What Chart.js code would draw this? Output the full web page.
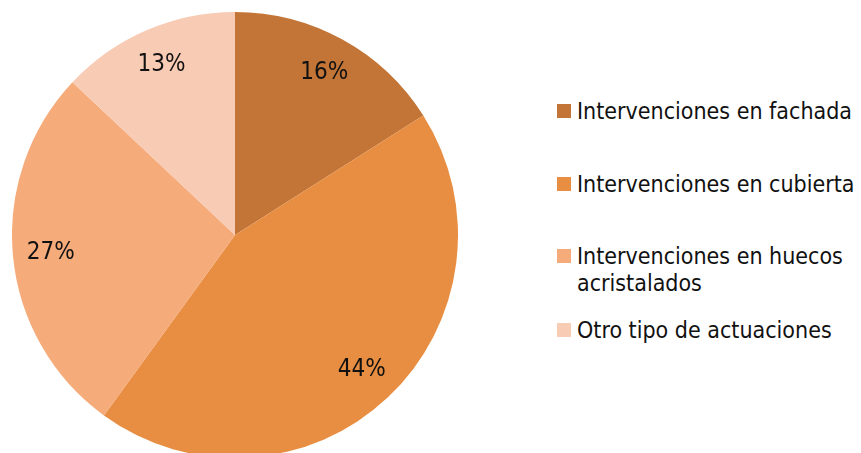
<!DOCTYPE html>
<html>
<head>
<meta charset="utf-8">
<script src="https://cdn.jsdelivr.net/npm/chart.js@4/dist/chart.umd.min.js"></script>
<style>
  html, body { margin: 0; padding: 0; background: #fff; }
  #wrap { position: relative; width: 861px; height: 453px; overflow: hidden; }
  #pie { position: absolute; left: 12px; top: 12px; width: 446px; height: 446px; }
  .leg { position: absolute; left: 557px; font-family: "DejaVu Sans Condensed", "DejaVu Sans", sans-serif; font-size: 23px; color: #111; line-height: 27px; white-space: nowrap; }
  .leg i { position: absolute; left: 0; top: 6px; width: 14px; height: 14px; }
  .leg span { display: block; margin-left: 20px; }
</style>
</head>
<body>
<div id="wrap">
  <div id="pie"><canvas id="chart"></canvas></div>
</div>
<script>
const categorias = ['Intervenciones en fachada', 'Intervenciones en cubierta', 'Intervenciones en huecos acristalados', 'Otro tipo de actuaciones'];
const valores = [16, 44, 27, 13];
const colores = ['#C27536', '#E88E42', '#F6AB7A', '#F8CBB4'];
const etiquetasLeyenda = [['Intervenciones en fachada'], ['Intervenciones en cubierta'], ['Intervenciones en huecos', 'acristalados'], ['Otro tipo de actuaciones']];
const posLeyenda = [98, 171, 243, 317];

const wrap = document.getElementById('wrap');
etiquetasLeyenda.forEach((lineas, i) => {
  const d = document.createElement('div');
  d.className = 'leg';
  d.style.top = posLeyenda[i] + 'px';
  d.innerHTML = `<i style="background:${colores[i]}"></i><span>${lineas.join('<br>')}</span>`;
  wrap.appendChild(d);
});

const porcentajes = {
  id: 'porcentajes',
  afterDatasetsDraw(chart) {
    const ctx = chart.ctx;
    const meta = chart.getDatasetMeta(0);
    ctx.save();
    ctx.font = '24px "DejaVu Sans Condensed", "DejaVu Sans", sans-serif';
    ctx.fillStyle = '#111';
    ctx.textAlign = 'center';
    ctx.textBaseline = 'middle';
    meta.data.forEach((arc, i) => {
      const p = arc.getProps(['x', 'y', 'startAngle', 'endAngle', 'outerRadius'], true);
      const a = (p.startAngle + p.endAngle) / 2;
      const r = p.outerRadius * 0.83;
      ctx.fillText(valores[i] + '%', p.x + Math.cos(a) * r, p.y + Math.sin(a) * r);
    });
    ctx.restore();
  }
};

new Chart(document.getElementById('chart'), {
  type: 'pie',
  data: {
    labels: categorias,
    datasets: [{
      data: valores,
      backgroundColor: colores,
      borderWidth: 0
    }]
  },
  options: {
    responsive: true,
    maintainAspectRatio: false,
    animation: false,
    layout: { padding: 0 },
    plugins: {
      legend: { display: false },
      tooltip: { enabled: false }
    }
  },
  plugins: [porcentajes]
});
</script>
</body>
</html>
